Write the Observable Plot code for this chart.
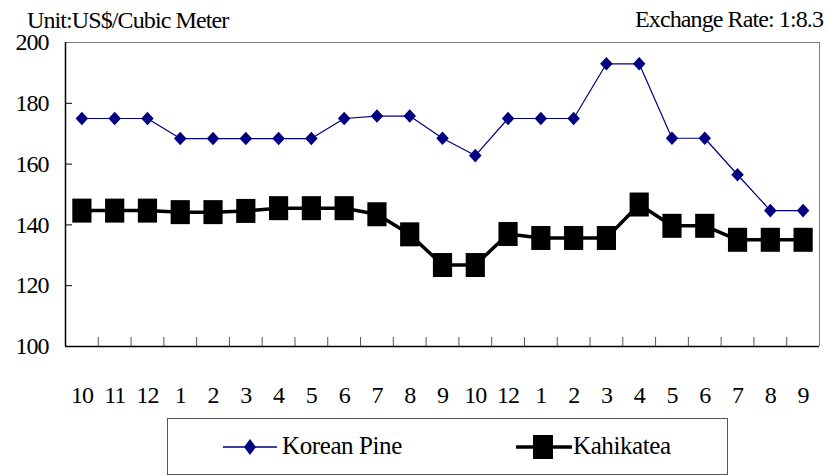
<!DOCTYPE html>
<html>
<head>
<meta charset="utf-8">
<script src="https://cdn.jsdelivr.net/npm/d3@7"></script>
<script src="https://cdn.jsdelivr.net/npm/@observablehq/plot@0.6"></script>
<style>
  html, body { margin: 0; padding: 0; background: #fff; }
  #wrap { position: relative; width: 829px; height: 476px; overflow: hidden;
          font-family: 'Liberation Serif', serif; color: #000; }
  .hdr { position: absolute; font-family: 'Liberation Serif', serif; font-size: 24px; line-height: 24px; letter-spacing: -0.9px; white-space: nowrap; }
  #chart { position: absolute; left: 0; top: 30px; }
  #chart svg text { font-family: 'Liberation Serif', serif; }
  #legend { position: absolute; left: 167px; top: 418px; width: 561px; height: 57px;
            box-sizing: border-box; border: 1px solid #555; }
  .ltext { position: absolute; font-family: 'Liberation Serif', serif; font-size: 25px; line-height: 25px; letter-spacing: -0.4px; white-space: nowrap; }
  .lsw { position: absolute; }
</style>
</head>
<body>
<div id="wrap">
  <div class="hdr" style="left:27px; top:8px;">Unit:US$/Cubic Meter</div>
  <div class="hdr" style="right:6px; top:7px;">Exchange Rate: 1:8.3</div>
  <div id="chart"></div>
  <div id="legend"></div>
</div>
<script>
// ---- data ----
const months = ["10","11","12","1","2","3","4","5","6","7","8","9","10","12","1","2","3","4","5","6","7","8","9"];
const koreanPine = [175,175,175,168.4,168.4,168.4,168.4,168.4,175,175.8,175.8,168.5,162.8,175,175,175,193,193,168.5,168.5,156.5,144.7,144.7];
const kahikatea = [144.7,144.7,144.7,144.2,144.2,144.6,145.5,145.5,145.5,143.5,136.9,126.8,126.8,137,135.7,135.7,135.7,146.7,139.7,139.7,135.1,135.1,135.1];
const yTicks = [100,120,140,160,180,200];
const seriesNames = ["Korean Pine", "Kahikatea"];

const n = months.length;
const idx = d3.range(n);
const boundaries = d3.range(n - 1).map(i => i + 0.5);
const xMin = -0.5, xMax = n - 0.5;

const diamondSym = { draw(ctx, size) { const r = Math.sqrt(size / Math.PI); const w = r * 0.92;
  ctx.moveTo(0, -r); ctx.lineTo(w, 0); ctx.lineTo(0, r); ctx.lineTo(-w, 0); ctx.closePath(); } };
const rectSym = { draw(ctx, size) { const r = Math.sqrt(size / Math.PI); const w = r * 0.8;
  ctx.rect(-w, -r, 2 * w, 2 * r); } };

const chart = Plot.plot({
  width: 829, height: 380,
  marginTop: 12, marginBottom: 64, marginLeft: 65, marginRight: 10,
  style: { fontFamily: "Liberation Serif, serif", fontSize: "24px", color: "#000", background: "transparent", overflow: "visible", letterSpacing: "-1px" },
  x: { domain: [xMin, xMax] },
  y: { domain: [100, 200] },
  marks: [
    Plot.axisY({ ticks: yTicks, tickSize: 0, tickPadding: 17, tickFormat: d => String(d), label: null }),
    Plot.axisY({ ticks: yTicks.slice(1, -1), tickSize: 7, dx: 7, tickFormat: () => "", label: null, stroke: "#000" }),
    Plot.axisX({ ticks: idx, tickSize: 0, tickPadding: 39, tickFormat: i => months[i], label: null }),
    Plot.axisX({ ticks: boundaries, tickSize: 9, dy: -9, tickFormat: () => "", label: null, stroke: "#555" }),
    Plot.ruleY([200], { stroke: "#808080" }),
    Plot.ruleX([xMax], { stroke: "#808080" }),
    Plot.lineY(koreanPine, { x: (d, i) => i, y: d => d, stroke: "#000080", strokeWidth: 1.2 }),
    Plot.dot(koreanPine, { x: (d, i) => i, y: d => d, symbol: diamondSym, r: 6.8, fill: "#000080", stroke: "none" }),
    Plot.lineY(kahikatea, { x: (d, i) => i, y: d => d, stroke: "#000", strokeWidth: 3.5 }),
    Plot.dot(kahikatea, { x: (d, i) => i, y: d => d, symbol: rectSym, r: 12, fill: "#000", stroke: "none" }),
    Plot.ruleY([100], { stroke: "#000", strokeWidth: 1.5 }),
    Plot.ruleX([xMin], { stroke: "#000", strokeWidth: 1.5 })
  ]
});
document.getElementById("chart").appendChild(chart);

// ---- legend (HTML) ----
const lg = document.getElementById("legend");
const L0 = 167, T0 = 418;
lg.innerHTML = `
  <svg class="lsw" style="left:${223 - L0 - 1}px; top:${430 - T0 - 1}px" width="56" height="34">
    <line x1="0" x2="54" y1="17" y2="17" stroke="#000080" stroke-width="1.5"/>
    <path d="M27,9 L33,17 L27,25 L21,17 Z" fill="#000080"/>
  </svg>
  <div class="ltext" style="left:${282 - L0 - 1}px; top:${433 - T0 - 1}px">${seriesNames[0]}</div>
  <svg class="lsw" style="left:${516 - L0 - 1}px; top:${430 - T0 - 1}px" width="58" height="34">
    <line x1="0" x2="56" y1="17" y2="17" stroke="#000" stroke-width="3.5"/>
    <rect x="17" y="5" width="20" height="24" fill="#000"/>
  </svg>
  <div class="ltext" style="left:${573 - L0 - 1}px; top:${433 - T0 - 1}px">${seriesNames[1]}</div>`;
</script>
</body>
</html>
